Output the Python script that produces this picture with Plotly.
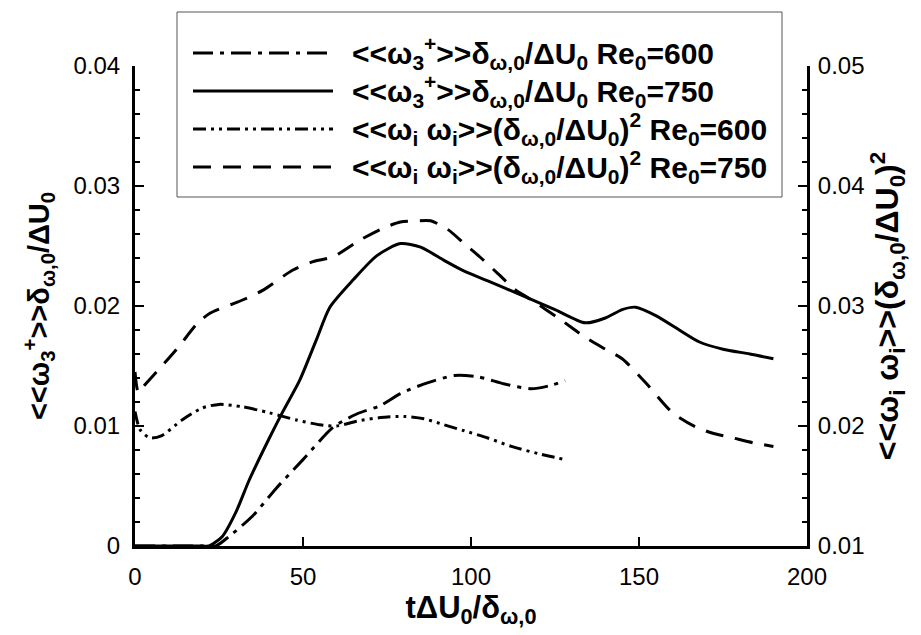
import plotly.graph_objects as go

# ---- data ----
t_w3_750 = [0, 10, 20, 22, 26, 30, 34, 40, 44, 49, 54, 58, 65, 72, 79, 85, 92, 98, 105, 115, 125, 134, 140, 145, 149, 155, 162, 168, 175, 183, 190]
w3_750 = [0, 0, 0, 0, 0.0008, 0.0028, 0.0055, 0.0090, 0.0112, 0.0138, 0.0172, 0.0199, 0.0222, 0.0242, 0.0252, 0.0249, 0.0238, 0.0229, 0.0221, 0.0209, 0.0197, 0.0186, 0.0190, 0.0197, 0.0199, 0.0192, 0.0180, 0.0170, 0.0164, 0.0160, 0.0156]

t_w3_600 = [0, 10, 20, 24, 28, 35, 42, 50, 59, 66, 73, 79, 87, 95, 102, 110, 118, 124, 128]
w3_600 = [0, 0, 0, 0, 0.0008, 0.0025, 0.0048, 0.0072, 0.0099, 0.0110, 0.0117, 0.0127, 0.0136, 0.0142, 0.0141, 0.0135, 0.0131, 0.0134, 0.0138]

t_ww_600 = [0, 1.5, 4.5, 8, 14, 20, 25, 32, 40, 48, 55, 60, 66, 73, 80, 86, 92, 98, 105, 112, 120, 128]
ww_600 = [0.0212, 0.0197, 0.0190, 0.0192, 0.0205, 0.0215, 0.0218, 0.0216, 0.0211, 0.0205, 0.0201, 0.0200, 0.0204, 0.0207, 0.0208, 0.0206, 0.0201, 0.0196, 0.0190, 0.0183, 0.0177, 0.0172]

t_ww_750 = [0, 1, 2.5, 8, 13, 18.4, 22.3, 29.3, 32, 38, 47, 53, 59, 67, 74, 79, 84, 88, 93, 98, 103, 108, 113, 118, 126, 134, 140, 145, 152, 160, 167, 172, 178, 184, 190]
ww_750 = [0.0245, 0.0228, 0.0233, 0.0250, 0.0266, 0.0285, 0.0294, 0.0302, 0.0305, 0.0313, 0.0330, 0.0337, 0.0341, 0.0355, 0.0365, 0.0370, 0.0371, 0.0371, 0.0364, 0.0352, 0.0340, 0.0327, 0.0314, 0.0305, 0.0290, 0.0274, 0.0264, 0.0256, 0.0236, 0.0211, 0.0199, 0.0194, 0.0190, 0.0186, 0.0183]

x_ticks = [0, 50, 100, 150, 200]
y_ticks = [0, 0.01, 0.02, 0.03, 0.04]
y2_ticks = [0.01, 0.02, 0.03, 0.04, 0.05]

legend_labels = [
    "<b>&lt;&lt;ω<sub>3</sub><sup>+</sup>&gt;&gt;δ<sub>ω,0</sub>/ΔU<sub>0</sub> Re<sub>0</sub>=600</b>",
    "<b>&lt;&lt;ω<sub>3</sub><sup>+</sup>&gt;&gt;δ<sub>ω,0</sub>/ΔU<sub>0</sub> Re<sub>0</sub>=750</b>",
    "<b>&lt;&lt;ω<sub>i</sub> ω<sub>i</sub>&gt;&gt;(δ<sub>ω,0</sub>/ΔU<sub>0</sub>)<sup>2</sup> Re<sub>0</sub>=600</b>",
    "<b>&lt;&lt;ω<sub>i</sub> ω<sub>i</sub>&gt;&gt;(δ<sub>ω,0</sub>/ΔU<sub>0</sub>)<sup>2</sup> Re<sub>0</sub>=750</b>",
]

# ---- styles ----
FONT = "Liberation Sans, Arial, sans-serif"
DASH_DOT = "20px,7px,4px,7px"
SOLID = "solid"
DASH_DOT_DOT = "13px,5px,3px,5px,3px,5px"
DASHED = "18px,12px"
dashes = [DASH_DOT, SOLID, DASH_DOT_DOT, DASHED]
LW = 3

fig = go.Figure()
series = [
    (t_w3_600, w3_600, "y", DASH_DOT),
    (t_w3_750, w3_750, "y", SOLID),
    (t_ww_600, ww_600, "y2", DASH_DOT_DOT),
    (t_ww_750, ww_750, "y2", DASHED),
]
for (tx, vy, ax, dash), lab in zip(series, legend_labels):
    fig.add_trace(go.Scatter(x=tx, y=vy, yaxis=ax, mode="lines", name=lab,
                             line=dict(color="black", width=LW, dash=dash, shape="spline", smoothing=0.7),
                             showlegend=False))

# ---- geometry (page has an 8px body margin) ----
OFF = 8
W, H = 921 - OFF, 635 - OFF
L, R, T, B = 127, 114, 58, 89
pw, ph = W - L - R, H - T - B
def px2x(px):
    return (px - OFF - L) / pw
def py2y(py):
    return (H - B - (py - OFF)) / ph

# ---- manual legend (box, samples, text) ----
fig.add_shape(type="rect", xref="paper", yref="paper",
              x0=px2x(177), x1=px2x(782), y0=py2y(197), y1=py2y(12),
              line=dict(color="#555", width=1), fillcolor="white", layer="above")
rows = [53, 91, 129, 167]
for py, dash, lab in zip(rows, dashes, legend_labels):
    fig.add_shape(type="line", xref="paper", yref="paper",
                  x0=px2x(193), x1=px2x(333), y0=py2y(py), y1=py2y(py),
                  line=dict(color="black", width=LW, dash=dash), layer="above")
    fig.add_annotation(xref="paper", yref="paper", x=px2x(350), y=py2y(py),
                       text=lab, showarrow=False, xanchor="left", yanchor="middle",
                       font=dict(family=FONT, size=30, color="black"))

axis_common = dict(showline=True, linewidth=3, linecolor="black", ticks="inside",
                   ticklen=9, tickwidth=2, tickcolor="black", showgrid=False, zeroline=False,
                   automargin=False,
                   tickfont=dict(family=FONT, size=24, color="black"))

fig.update_layout(
    width=W, height=H,
    margin=dict(l=L, r=R, t=T, b=B),
    plot_bgcolor="white", paper_bgcolor="white",
    xaxis=dict(range=[0, 200], tickvals=x_ticks, ticklabelstandoff=7,
               title=dict(text="<b>tΔU<sub>0</sub>/δ<sub>ω,0</sub></b>",
                          font=dict(family=FONT, size=31, color="black"), standoff=2),
               **axis_common),
    yaxis=dict(range=[0, 0.04], tickvals=y_ticks, ticklabelstandoff=7,
               minor=dict(dtick=0.002, ticks="inside", ticklen=5, tickwidth=1.5, tickcolor="black"),
               title=dict(text="<b>&lt;&lt;ω<sub>3</sub><sup>+</sup>&gt;&gt;δ<sub>ω,0</sub>/ΔU<sub>0</sub></b>",
                          font=dict(family=FONT, size=29, color="black"), standoff=16),
               **axis_common),
    yaxis2=dict(range=[0.01, 0.05], tickvals=y2_ticks, overlaying="y", side="right", ticklabelstandoff=3,
                minor=dict(dtick=0.002, ticks="inside", ticklen=5, tickwidth=1.5, tickcolor="black"),
                title=dict(text="<b>&lt;&lt;ω<sub>i</sub> ω<sub>i</sub>&gt;&gt;(δ<sub>ω,0</sub>/ΔU<sub>0</sub>)<sup>2</sup></b>",
                           font=dict(family=FONT, size=32, color="black"), standoff=0),
                **axis_common),
    showlegend=False,
)

fig.write_html("out.html")
